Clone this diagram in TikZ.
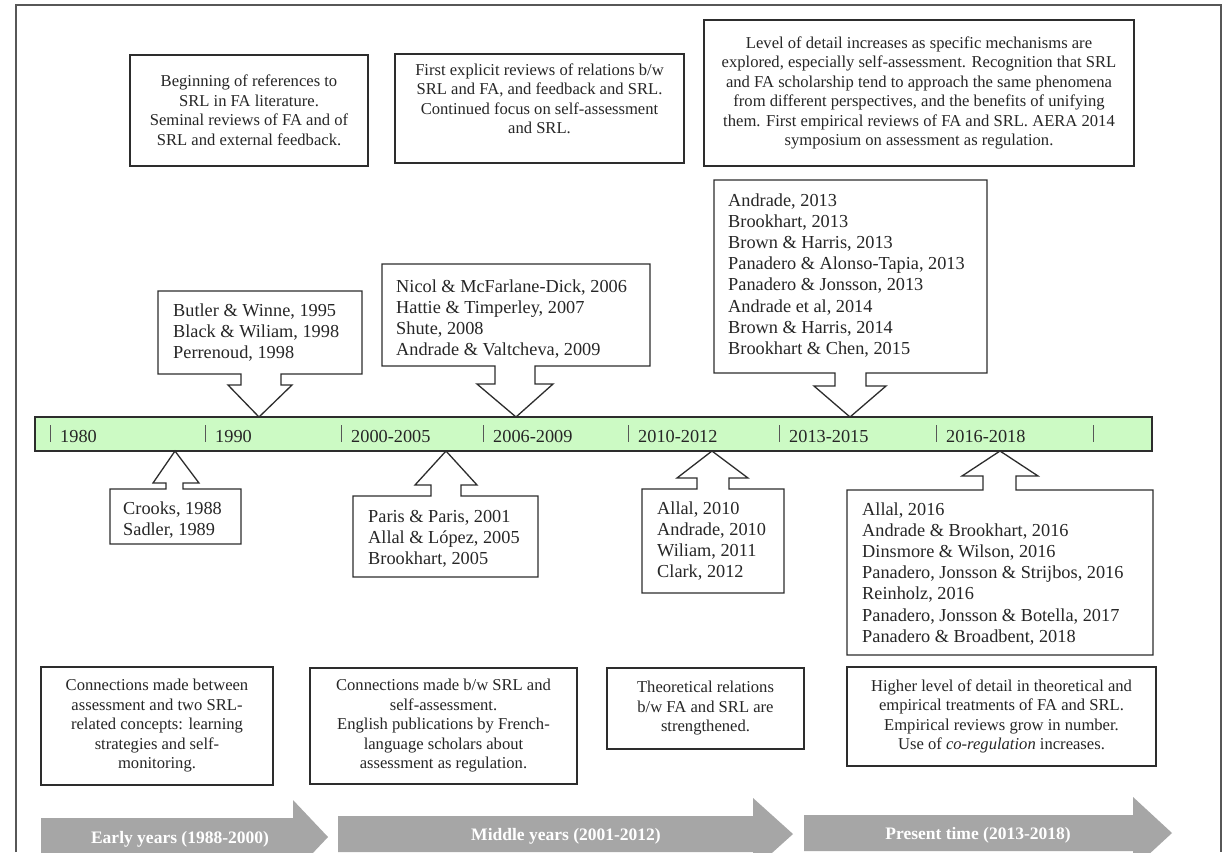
\documentclass[tikz,border=0pt]{standalone}
\usepackage{fontspec}
\setmainfont{Liberation Serif}
\definecolor{barg}{RGB}{204,250,196}
\definecolor{linec}{RGB}{45,45,45}
\definecolor{arrg}{RGB}{166,166,166}
\tikzset{
  frameline/.style={draw=linec!80, line width=1.4pt},
  callout/.style={draw=linec, line width=1.3pt, fill=white, line join=miter},
  cite/.style={anchor=base west, inner sep=0pt, align=left, text=black!85,
    font=\fontsize{18.3}{21.2}\selectfont},
  descbox/.style={draw=linec, line width=1.3pt, align=center, inner sep=0pt, text=black!85,
    font=\fontsize{16.6}{19.5}\selectfont},
  barbox/.style={draw=linec, line width=1.3pt, fill=barg, inner sep=0pt,
    minimum width=1117pt, minimum height=34pt},
  tickline/.style={draw=linec!80, line width=1pt},
  yearlab/.style={anchor=base west, inner sep=0pt, text=black!85,
    font=\fontsize{18.3}{21.2}\selectfont},
  period/.style={fill=arrg, draw=none},
  periodlab/.style={anchor=base, inner sep=0pt, text=white,
    font=\fontsize{17.5}{21}\selectfont\bfseries}
}
\begin{document}
\begin{tikzpicture}[x=1pt,y=-1pt]
\useasboundingbox (0,0) rectangle (1225,852);
\clip (0,0) rectangle (1225,852);
\fill[white] (0,0) rectangle (1225,852);

% outer frame
\draw[frameline] (16,852) -- (16,5) -- (1221,5) -- (1221,852);

% timeline bar
\node[barbox] (tl) at (593.5,434) {};
\foreach \x/\lab [count=\i] in {50/1980, 205/1990, 341/2000-2005, 483/2006-2009,
    628/2010-2012, 779/2013-2015, 936/2016-2018} {
  \draw[tickline] (\x,425) -- (\x,442);
  \node[yearlab] (yr\i) at (\x+10,442) {\lab};
}
\draw[tickline] (1093,425) -- (1093,442);

% top description boxes
\node[descbox, minimum width=238pt, minimum height=111pt] (d1) at (249,110.5)
  {Beginning of references to\\SRL in FA literature.\\Seminal reviews of FA and of\\SRL and external feedback.};
\node[descbox, minimum width=289pt, minimum height=109pt] (d2) at (539.5,108.5)
  {First explicit reviews of relations b/w\\SRL and FA, and feedback and SRL.\\Continued focus on self-assessment\\and SRL.\\\mbox{}};
\node[descbox, minimum width=430pt, minimum height=146pt] (d3) at (919,93)
  {Level of detail increases as specific mechanisms are\\explored, especially self-assessment. Recognition that SRL\\and FA scholarship tend to approach the same phenomena\\from different perspectives, and the benefits of unifying\\them. First empirical reviews of FA and SRL. AERA 2014\\symposium on assessment as regulation.};

% upper callouts (pointing down to the timeline)
\draw[callout] (158,374) -- (241,374) -- (241,385) -- (228,385) -- (259,417) -- (292,385)
  -- (281,385) -- (281,374) -- (362,374) -- (362,291) -- (158,291) -- cycle;
\node[cite] (c1) at (173,358.4) {Butler \& Winne, 1995\\Black \& Wiliam, 1998\\Perrenoud, 1998};

\draw[callout] (382,366) -- (495,366) -- (495,384) -- (477,384) -- (516,417) -- (553,384)
  -- (535,384) -- (535,366) -- (650,366) -- (650,264) -- (382,264) -- cycle;
\node[cite] (c2) at (396,355.6) {Nicol \& McFarlane-Dick, 2006\\Hattie \& Timperley, 2007\\Shute, 2008\\Andrade \& Valtcheva, 2009};

\draw[callout] (714,373) -- (835,373) -- (835,386) -- (814,386) -- (850,417) -- (886,386)
  -- (866,386) -- (866,373) -- (987,373) -- (987,180) -- (714,180) -- cycle;
\node[cite] (c3) at (728,354.4) {Andrade, 2013\\Brookhart, 2013\\Brown \& Harris, 2013\\Panadero \& Alonso-Tapia, 2013\\Panadero \& Jonsson, 2013\\Andrade et al, 2014\\Brown \& Harris, 2014\\Brookhart \& Chen, 2015};

% lower callouts (pointing up to the timeline)
\draw[callout] (110,489) -- (166,489) -- (166,483) -- (153,483) -- (175,451) -- (199,483)
  -- (183,483) -- (183,489) -- (241,489) -- (241,544) -- (110,544) -- cycle;
\node[cite] (c4) at (123,535.2) {Crooks, 1988\\Sadler, 1989};

\draw[callout] (353,496) -- (431,496) -- (431,485) -- (415,485) -- (446,451) -- (477,485)
  -- (461,485) -- (461,496) -- (538,496) -- (538,577) -- (353,577) -- cycle;
\node[cite] (c5) at (368,564.4) {Paris \& Paris, 2001\\Allal \& López, 2005\\Brookhart, 2005};

\draw[callout] (642,489) -- (697,489) -- (697,478) -- (677,478) -- (712,451) -- (748,478)
  -- (729,478) -- (729,489) -- (784,489) -- (784,593) -- (642,593) -- cycle;
\node[cite] (c6) at (657,577.6) {Allal, 2010\\Andrade, 2010\\Wiliam, 2011\\Clark, 2012};

\draw[callout] (847,490) -- (983,490) -- (983,476) -- (962,476) -- (1000,451) -- (1038,476)
  -- (1016,476) -- (1016,490) -- (1153,490) -- (1153,655) -- (847,655) -- cycle;
\node[cite] (c7) at (862,642.2) {Allal, 2016\\Andrade \& Brookhart, 2016\\Dinsmore \& Wilson, 2016\\Panadero, Jonsson \& Strijbos, 2016\\Reinholz, 2016\\Panadero, Jonsson \& Botella, 2017\\Panadero \& Broadbent, 2018};

% bottom description boxes
\node[descbox, minimum width=232pt, minimum height=118pt] (d4) at (157,726)
  {Connections made between\\assessment and two SRL-\\related concepts: learning\\strategies and self-\\monitoring.};
\node[descbox, minimum width=267pt, minimum height=116pt] (d5) at (443.5,726)
  {Connections made b/w SRL and\\self-assessment.\\English publications by French-\\language scholars about\\assessment as regulation.};
\node[descbox, minimum width=197pt, minimum height=81pt] (d6) at (705.5,708.5)
  {Theoretical relations\\b/w FA and SRL are\\strengthened.};
\node[descbox, minimum width=309pt, minimum height=99pt] (d7) at (1001.5,716.5)
  {Higher level of detail in theoretical and\\empirical treatments of FA and SRL.\\Empirical reviews grow in number.\\Use of \textit{co-regulation} increases.};

% period arrows
\fill[period] (41,818) -- (293,818) -- (293,800) -- (328,837) -- (293,874) -- (293,856) -- (41,856) -- cycle;
\node[periodlab] (p1) at (180,843) {Early years (1988-2000)};
\fill[period] (338,816) -- (753,816) -- (753,798) -- (793,834) -- (753,870) -- (753,852) -- (338,852) -- cycle;
\node[periodlab] (p2) at (566,840) {Middle years (2001-2012)};
\fill[period] (804,815) -- (1133,815) -- (1133,797) -- (1172,833) -- (1133,869) -- (1133,851) -- (804,851) -- cycle;
\node[periodlab] (p3) at (978,839) {Present time (2013-2018)};
\end{tikzpicture}
\end{document}
